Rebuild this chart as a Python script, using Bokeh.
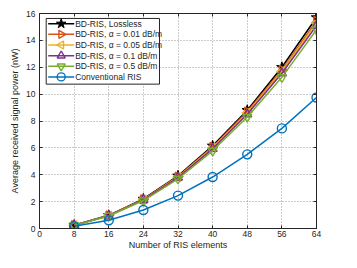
from bokeh.plotting import figure
from bokeh.models import Range1d, FixedTicker, LinearAxis, CustomJSTickFormatter
from bokeh.core.properties import value
from bokeh.embed import file_html
from bokeh.resources import INLINE
import math

N = [8, 16, 24, 32, 40, 48, 56, 64]
lossless = [0.25, 0.98, 2.2, 3.92, 6.15, 8.8, 12.0, 15.7]
a001 = [0.245, 0.97, 2.17, 3.87, 6.07, 8.7, 11.8, 15.45]
a005 = [0.24, 0.96, 2.15, 3.83, 6.0, 8.6, 11.7, 15.3]
a01 = [0.24, 0.95, 2.13, 3.79, 5.93, 8.5, 11.55, 15.1]
a05 = [0.23, 0.93, 2.08, 3.7, 5.78, 8.3, 11.25, 14.8]
conv = [0.16, 0.61, 1.38, 2.45, 3.83, 5.52, 7.45, 9.75]

labels = ["BD-RIS, Lossless", "BD-RIS, \u03b1 = 0.01 dB/m", "BD-RIS, \u03b1 = 0.05 dB/m",
          "BD-RIS, \u03b1 = 0.1 dB/m", "BD-RIS, \u03b1 = 0.5 dB/m", "Conventional RIS"]
xticks = [0, 8, 16, 24, 32, 40, 48, 56, 64]
yticks = [0, 2, 4, 6, 8, 10, 12, 14, 16]

series = [lossless, a001, a005, a01, a05, conv]
colors = ["#000000", "#D95319", "#EDB120", "#7E2F8E", "#77AC30", "#0072BD"]
markers = ["star", "triangle", "triangle", "triangle", "inverted_triangle", "circle"]
angles = [0, -math.pi / 2, math.pi / 2, 0, 0, 0]
sizes = [11, 9, 9, 9, 9, 9]

FONT = "Liberation Sans"
AX = "#262626"
FW, FH = 277, 217

p = figure(width=341, height=252, output_backend="svg", toolbar_location=None,
           x_range=Range1d(0, 64), y_range=Range1d(0, 16),
           min_border_left=39, min_border_right=25, min_border_top=13, min_border_bottom=22)
p.extra_x_ranges = {"px": Range1d(0, FW)}
p.extra_y_ranges = {"px": Range1d(0, FH)}
p.background_fill_color = "white"
p.border_fill_color = "white"
p.outline_line_color = AX
p.outline_line_width = 1

for ax in [p.xaxis[0], p.yaxis[0]]:
    ax.major_tick_in = 3
    ax.major_tick_out = 0
    ax.minor_tick_in = 0
    ax.minor_tick_out = 0
    ax.axis_line_color = AX
    ax.major_tick_line_color = AX
    ax.major_label_text_font = FONT
    ax.major_label_text_font_size = "8.5px"
    ax.major_label_text_color = AX
    ax.axis_label_text_font = FONT
    ax.axis_label_text_font_size = "9px"
    ax.axis_label_text_font_style = "normal"
    ax.axis_label_text_color = AX
p.xaxis.ticker = FixedTicker(ticks=xticks)
p.yaxis.ticker = FixedTicker(ticks=yticks)
p.xaxis.axis_label = "Number of RIS elements"
p.yaxis.axis_label = "Average received signal power (nW)"
p.xaxis.major_label_standoff = 2
p.xaxis.axis_label_standoff = 0
p.yaxis.major_label_standoff = 4
p.yaxis.axis_label_standoff = 3

for loc, tk in [("above", xticks), ("right", yticks)]:
    a = LinearAxis(ticker=FixedTicker(ticks=tk), formatter=CustomJSTickFormatter(code="return ''"))
    a.major_tick_in = 3
    a.major_tick_out = 0
    a.minor_tick_in = 0
    a.minor_tick_out = 0
    a.axis_line_color = AX
    a.major_tick_line_color = AX
    a.major_label_standoff = 0
    p.add_layout(a, loc)

p.xgrid.ticker = FixedTicker(ticks=xticks)
p.ygrid.ticker = FixedTicker(ticks=yticks)
for g in [p.xgrid[0], p.ygrid[0]]:
    g.grid_line_color = "#8c8c8c"
    g.grid_line_dash = "1 2"
    g.grid_line_width = 1
    g.grid_line_alpha = 0.9

def draw_marker(xs, ys, m, s, ang, c, **kw):
    if m == "star":
        p.scatter(xs, ys, marker=m, size=s, line_color=c, fill_color=c, line_width=1.0, **kw)
    else:
        p.scatter(xs, ys, marker=m, size=s, angle=ang, line_color=c,
                  fill_color=None, line_width=1.4, **kw)

for ys, c, m, ang, s in zip(series, colors, markers, angles, sizes):
    p.line(N, ys, line_color=c, line_width=1.5)
    draw_marker(N, ys, m, s, ang, c)

# legend box (screen-pixel coordinates inside the frame)
LX0, LX1, LY0, LY1 = 6.7, 120, 145.7, 212
p.quad(left=[LX0], right=[LX1], bottom=[LY0], top=[LY1], fill_color="white",
       line_color=AX, line_width=1, x_range_name="px", y_range_name="px")
row0, dy = 206.7, 10.74
for i, (c, m, ang, s, lab) in enumerate(zip(colors, markers, angles, sizes, labels)):
    yy = row0 - i * dy
    p.line([8.7, 34.7], [yy, yy], line_color=c, line_width=1.5,
           x_range_name="px", y_range_name="px")
    draw_marker([21.7], [yy], m, s - 1, ang, c, x_range_name="px", y_range_name="px")
    p.text([35.7], [yy], text=[lab], text_font=value(FONT), text_font_size="8.5px",
           text_color=AX, text_baseline="middle", text_align="left",
           x_range_name="px", y_range_name="px")

open("out.html", "w").write(file_html(p, INLINE))
